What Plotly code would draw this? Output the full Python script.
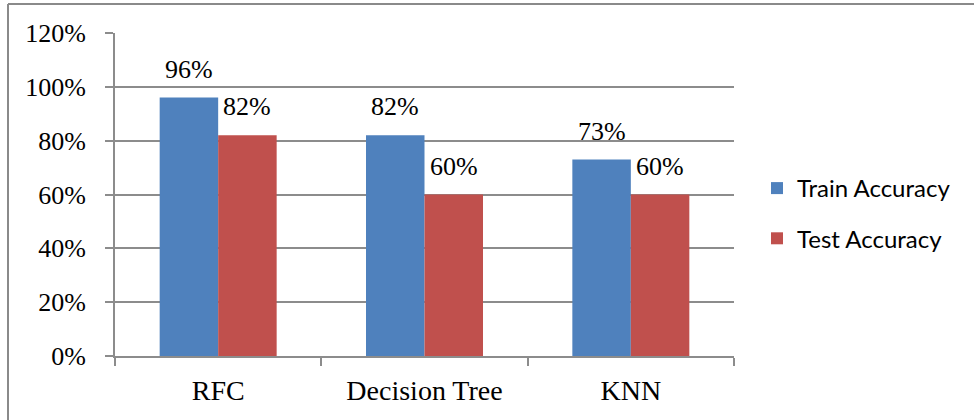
import plotly.graph_objects as go

# Model accuracy comparison
models = ["RFC", "Decision Tree", "KNN"]
train_acc = [0.96, 0.82, 0.73]
test_acc = [0.82, 0.60, 0.60]
y_ticks = [0, 0.2, 0.4, 0.6, 0.8, 1.0, 1.2]
y_tick_labels = ["0%", "20%", "40%", "60%", "80%", "100%", "120%"]

BLUE = "#4F81BD"
RED = "#C0504D"
GRID = "#8C8C8C"
SERIF = "Liberation Serif"
SANS = "Lato"

W, H = 974, 420
ML, MR, MT, MB = 115, 240, 33, 64

fig = go.Figure()
fig.add_trace(go.Bar(name="Train Accuracy", x=models, y=train_acc, legendgroup="train",
                     marker=dict(color=BLUE, line=dict(width=0))))
fig.add_trace(go.Bar(name="Test Accuracy", x=models, y=test_acc, legendgroup="test",
                     marker=dict(color=RED, line=dict(width=0))))

# value labels above each bar
plot_w = W - ML - MR
cat_w = plot_w / len(models)
bargap = 0.433
bar_w = cat_w * (1 - bargap) / 2
for vals, dx in ((train_acc, -bar_w / 2), (test_acc, bar_w / 2)):
    for m, v in zip(models, vals):
        fig.add_annotation(x=m, y=v, text=f"{round(v * 100)}%", showarrow=False,
                           xshift=dx, yshift=12, yanchor="bottom",
                           font=dict(family=SERIF, size=26, color="#000"))

# frame lines around the chart
top = 1 + (MT - 4) / (H - MT - MB)
left = -(ML - 8) / plot_w
fig.add_shape(type="line", xref="paper", yref="paper",
              x0=left, x1=(W - ML) / plot_w, y0=top, y1=top,
              line=dict(color="#8A8A8A", width=2))
fig.add_shape(type="line", xref="paper", yref="paper",
              x0=left, x1=left, y0=top, y1=-MB / (H - MT - MB),
              line=dict(color="#8A8A8A", width=2))

fig.update_layout(
    width=W, height=H,
    margin=dict(l=ML, r=MR, t=MT, b=MB, autoexpand=False),
    paper_bgcolor="white", plot_bgcolor="white",
    barmode="group", bargap=bargap, bargroupgap=0,
    showlegend=True,
    legend=dict(xref="container", yref="container", x=757 / W, y=1 - 213.5 / H,
                xanchor="left", yanchor="middle",
                font=dict(family=SANS, size=24, color="#000"),
                traceorder="grouped", tracegroupgap=16),
    xaxis=dict(showline=True, linecolor=GRID, linewidth=2,
               ticks="outside", ticklen=8, tickcolor=GRID, tickwidth=2,
               tickson="boundaries", ticklabelstandoff=8,
               tickfont=dict(family=SERIF, size=28, color="#000"),
               showgrid=False),
    yaxis=dict(range=[0, 1.2], tickvals=y_ticks, ticktext=y_tick_labels,
               showline=True, linecolor=GRID, linewidth=2,
               ticks="outside", ticklen=8, tickcolor=GRID, tickwidth=2,
               ticklabelstandoff=14,
               showgrid=True, gridcolor=GRID, gridwidth=2,
               zeroline=False,
               tickfont=dict(family=SERIF, size=26, color="#000")),
)

fig.write_html("out.html")
